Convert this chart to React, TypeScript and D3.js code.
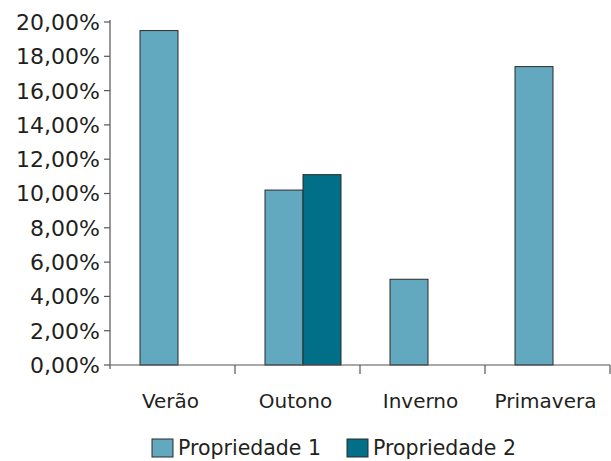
import React from "react";
import * as d3 from "d3";

const categories = ["Verão", "Outono", "Inverno", "Primavera"];
const seriesNames = ["Propriedade 1", "Propriedade 2"];
const prop1 = [19.5, 10.2, 5.0, 17.4];
const prop2 = [null, 11.1, null, null];
const yTicks = [0, 2, 4, 6, 8, 10, 12, 14, 16, 18, 20];

const colors = ["#62a9c0", "#006f87"];
const FONT = "'DejaVu Sans', sans-serif";

export default function App() {
  const W = 611, H = 461;
  const left = 110, right = 610, top = 22, bottom = 365;
  const x = d3.scaleBand<string>().domain(categories).range([left, right]).padding(0);
  const sub = d3.scaleBand<string>().domain(seriesNames).range([30, 106]).padding(0);
  const y = d3.scaleLinear().domain([0, 20]).range([bottom, top]);
  const fmt = (v: number) => v.toFixed(2).replace(".", ",") + "%";
  const series = [prop1, prop2];

  return (
    <svg width={W} height={H} style={{ position: "absolute", left: 0, top: 0, background: "#fff" }}>
      {series.map((vals, si) =>
        categories.map((c, ci) => {
          const v = vals[ci];
          if (v == null) return null;
          const bx = (x(c) as number) + (sub(seriesNames[si]) as number);
          return (
            <rect key={si + "-" + ci} x={bx} y={y(v)} width={sub.bandwidth()} height={y(0) - y(v)}
              fill={colors[si]} stroke="#2b2b2b" strokeWidth={1} />
          );
        })
      )}
      {/* y axis */}
      <line x1={left} x2={left} y1={top - 2} y2={bottom + 4} stroke="#555" strokeWidth={1.2} />
      {yTicks.map((t) => (
        <g key={t}>
          <line x1={left - 6} x2={left} y1={y(t)} y2={y(t)} stroke="#555" strokeWidth={1.2} />
          <text x={100} y={y(t)} dy="0.36em" textAnchor="end" fontFamily={FONT} fontSize={22} fill="#231f20">
            {fmt(t)}
          </text>
        </g>
      ))}
      {/* x axis */}
      <line x1={left} x2={right} y1={bottom} y2={bottom} stroke="#555" strokeWidth={1.2} />
      {categories.map((c, i) => (
        <line key={"xt" + i} x1={(x(c) as number) + x.bandwidth()} x2={(x(c) as number) + x.bandwidth()}
          y1={bottom} y2={bottom + 9} stroke="#555" strokeWidth={1.2} />
      ))}
      {categories.map((c) => (
        <text key={c} x={(x(c) as number) + x.bandwidth() / 2 - 2} y={408} textAnchor="middle"
          fontFamily={FONT} fontSize={20} fill="#231f20">{c}</text>
      ))}
      {/* legend */}
      {seriesNames.map((s, i) => {
        const lx = [152, 347][i];
        return (
          <g key={s}>
            <rect x={lx} y={439} width={21} height={18} fill={colors[i]} stroke="#2b2b2b" strokeWidth={1} />
            <text x={lx + 26} y={455} fontFamily={FONT} fontSize={20.5} fill="#231f20">{s}</text>
          </g>
        );
      })}
    </svg>
  );
}
